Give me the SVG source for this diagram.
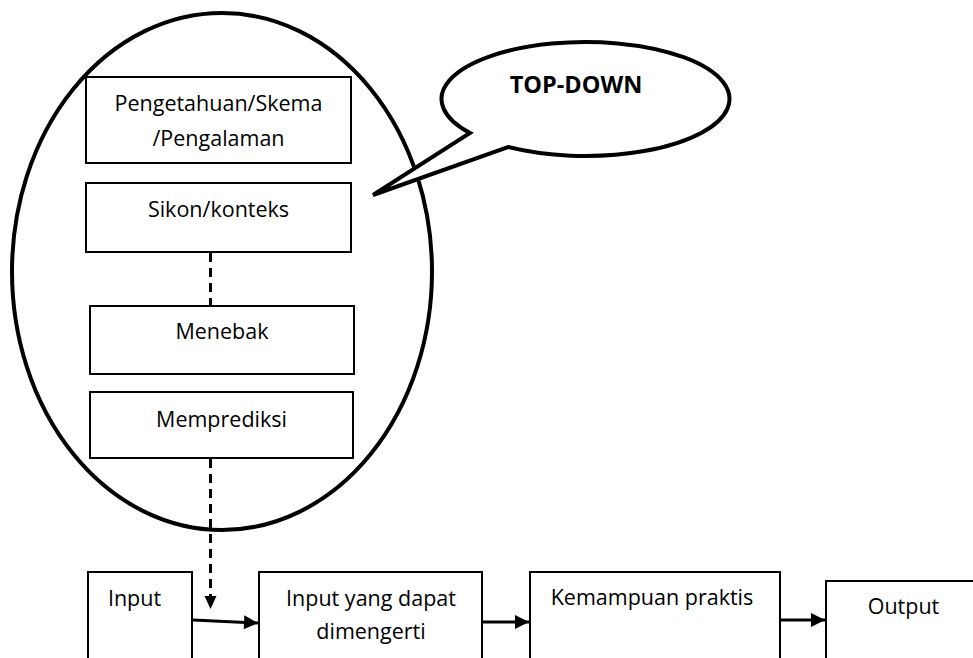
<svg xmlns="http://www.w3.org/2000/svg" width="973" height="658" viewBox="0 0 973 658">
<defs>
<style>
.box{fill:#fff;stroke:#000;stroke-width:2}
.t{font-family:"Open Sans","Liberation Sans",sans-serif;font-size:21.5px;fill:#000;text-anchor:middle}
.b{font-weight:bold;font-size:23.5px}
.dash{stroke:#000;stroke-width:3;stroke-dasharray:9 6;fill:none}
.ln{stroke:#000;stroke-width:3;fill:none}
</style>
<marker id="ah" viewBox="0 0 10 10" refX="10" refY="5" markerWidth="15" markerHeight="14" markerUnits="userSpaceOnUse" orient="auto">
<path d="M0,0 L10,5 L0,10 z" fill="#000"/>
</marker>
</defs>
<rect width="973" height="658" fill="#fff"/>
<g id="topdown-ellipse">
<ellipse cx="222" cy="271.5" rx="210" ry="258.5" fill="none" stroke="#000" stroke-width="4"/>
</g>
<g id="bubble">
<path d="M470,133 A144,57 0 1 1 508,147 L373,195 Z" fill="#fff" stroke="#000" stroke-width="4" stroke-linejoin="miter"/>
<text class="t b" x="576" y="93">TOP-DOWN</text>
</g>
<g id="pengetahuan">
<rect class="box" x="86" y="77" width="265" height="86"/>
<text class="t" x="218.5" y="111">Pengetahuan/Skema</text>
<text class="t" x="218.5" y="146">/Pengalaman</text>
</g>
<g id="sikon">
<rect class="box" x="86" y="183" width="265" height="69"/>
<text class="t" x="218.5" y="217">Sikon/konteks</text>
</g>
<g id="menebak">
<rect class="box" x="90" y="306" width="264" height="68"/>
<text class="t" x="222" y="339">Menebak</text>
</g>
<g id="memprediksi">
<rect class="box" x="90" y="392" width="263" height="66"/>
<text class="t" x="221.5" y="427">Memprediksi</text>
</g>
<g id="input">
<rect class="box" x="88" y="572" width="104" height="100"/>
<text class="t" x="134.5" y="606">Input</text>
</g>
<g id="input-dimengerti">
<rect class="box" x="259" y="572" width="223" height="100"/>
<text class="t" x="371" y="606">Input yang dapat</text>
<text class="t" x="371" y="639">dimengerti</text>
</g>
<g id="kemampuan">
<rect class="box" x="530" y="572" width="250" height="100"/>
<text class="t" x="652" y="605">Kemampuan praktis</text>
</g>
<g id="output">
<rect class="box" x="826" y="581" width="160" height="100"/>
<text class="t" x="903.5" y="614">Output</text>
</g>
<g id="connectors">
<line class="dash" x1="210.5" y1="253" x2="210.5" y2="306"/>
<line class="dash" x1="210.5" y1="459" x2="210.5" y2="596"/>
<path d="M204.5,596 L216.5,596 L210.5,609 Z" fill="#000"/>
<line class="ln" x1="193" y1="620" x2="258" y2="623" stroke-width="2.5" marker-end="url(#ah)"/>
<line class="ln" x1="483" y1="622" x2="529" y2="622" marker-end="url(#ah)"/>
<line class="ln" x1="781" y1="620" x2="825" y2="620" marker-end="url(#ah)"/>
</g>
</svg>
